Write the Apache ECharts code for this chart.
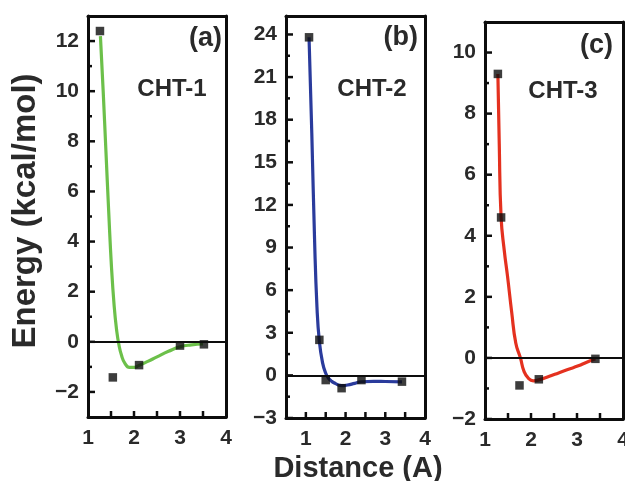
<!DOCTYPE html>
<html><head><meta charset="utf-8">
<script src="https://cdn.jsdelivr.net/npm/echarts@6/dist/echarts.min.js"></script>
<style>html,body{margin:0;padding:0;background:#fff}#c{width:625px;height:481px}</style>
</head><body><div id="c"></div>
<script>
// ---- text ----
const panelTags = ['(a)', '(b)', '(c)'];
const panelNames = ['CHT-1', 'CHT-2', 'CHT-3'];
const xTitle = 'Distance (A)';
const yTitle = 'Energy (kcal/mol)';
const xTickLabels = [1, 2, 3, 4];

// ---- panel (a) CHT-1 ----
const distA = [1.26, 1.54, 2.11, 3.0, 3.52];
const energyA = [12.4, -1.42, -0.93, -0.15, -0.1];
const fitXA = [1.27, 1.33, 1.39, 1.45, 1.51, 1.57, 1.62, 1.67, 1.73, 1.80, 1.90, 2.00, 2.10, 2.30, 2.50, 2.75, 3.00, 3.25, 3.50];
const fitYA = [12.2, 10.0, 7.6, 5.2, 3.0, 1.4, 0.5, -0.1, -0.55, -0.85, -1.02, -1.02, -0.95, -0.78, -0.6, -0.38, -0.2, -0.12, -0.08];
const yTicksA = [-2, 0, 2, 4, 6, 8, 10, 12];

// ---- panel (b) CHT-2 ----
const distB = [1.08, 1.34, 1.50, 1.90, 2.40, 3.42];
const energyB = [23.8, 2.5, -0.33, -0.9, -0.33, -0.44];
const fitXB = [1.08, 1.15, 1.22, 1.28, 1.34, 1.42, 1.50, 1.57, 1.65, 1.75, 1.85, 1.95, 2.05, 2.23, 2.40, 2.70, 3.00, 3.42];
const fitYB = [23.8, 17.0, 9.5, 4.8, 2.4, 0.9, 0.15, -0.2, -0.42, -0.58, -0.7, -0.72, -0.68, -0.56, -0.45, -0.42, -0.43, -0.45];
const yTicksB = [-3, 0, 3, 6, 9, 12, 15, 18, 21, 24];

// ---- panel (c) CHT-3 ----
const distC = [1.28, 1.35, 1.75, 2.17, 3.40];
const energyC = [9.3, 4.6, -0.9, -0.7, -0.03];
const fitXC = [1.28, 1.31, 1.35, 1.42, 1.49, 1.58, 1.67, 1.77, 1.85, 1.95, 2.05, 2.17, 2.40, 2.60, 2.80, 3.03, 3.20, 3.40];
const fitYC = [9.3, 7.0, 4.6, 3.5, 2.67, 1.5, 0.48, 0.0, -0.45, -0.68, -0.75, -0.72, -0.6, -0.49, -0.38, -0.26, -0.15, -0.03];
const yTicksC = [-2, 0, 2, 4, 6, 8, 10];

// ---- assembly ----
const FONT = '"Liberation Sans", Arial, Helvetica, sans-serif';
const TXT = '#2a2a2a';
const INK = '#0d0d0d';

const panels = [
  {dist: distA, energy: energyA, fitX: fitXA, fitY: fitYA, yTicks: yTicksA,
   box: {left: 88, top: 16, width: 138, height: 401}, xMin: 1, xMax: 4, yMin: -3, yMax: 13, yMinorStep: 1,
   color: '#6cc04a', tagPos: [222, 25], namePos: [172, 89]},
  {dist: distB, energy: energyB, fitX: fitXB, fitY: fitYB, yTicks: yTicksB,
   box: {left: 286, top: 16, width: 139, height: 402}, xMin: 0.5, xMax: 4, yMin: -3, yMax: 25.3, yMinorStep: 1.5,
   color: '#2a3b9c', tagPos: [418, 24], namePos: [372, 89]},
  {dist: distC, energy: energyC, fitX: fitXC, fitY: fitYC, yTicks: yTicksC,
   box: {left: 485, top: 22, width: 138, height: 397}, xMin: 1, xMax: 4, yMin: -2, yMax: 11, yMinorStep: 1,
   color: '#e4311f', tagPos: [613, 32], namePos: [563, 91]}
];

const grids = [], xAxes = [], yAxes = [], series = [], graphics = [];
const labelStyle = {fontSize: 21, fontWeight: 'bold', color: TXT, fontFamily: FONT};
const sign = v => (v < 0 ? '\u2212' + Math.abs(v) : String(v));
const frameLine = () => ({show: true, onZero: false, lineStyle: {color: INK, width: 3}});

panels.forEach((p, i) => {
  const g = grids.length;
  grids.push(Object.assign({show: false, containLabel: false, outerBoundsMode: 'none'}, p.box));
  const xb = xAxes.length;
  xAxes.push({type: 'value', gridIndex: g, min: p.xMin, max: p.xMax, position: 'bottom',
    axisLine: frameLine(), splitLine: {show: false}, axisTick: {show: false},
    axisLabel: Object.assign({customValues: xTickLabels, margin: 11, formatter: sign}, labelStyle)});
  xAxes.push({type: 'value', gridIndex: g, min: p.xMin, max: p.xMax, position: 'top',
    axisLine: frameLine(), splitLine: {show: false}, axisTick: {show: false}, axisLabel: {show: false}});
  const yl = yAxes.length;
  yAxes.push({type: 'value', gridIndex: g, min: p.yMin, max: p.yMax, position: 'left',
    axisLine: frameLine(), splitLine: {show: false}, axisTick: {show: false},
    axisLabel: Object.assign({customValues: p.yTicks, margin: 9, formatter: sign}, labelStyle)});
  yAxes.push({type: 'value', gridIndex: g, min: p.yMin, max: p.yMax, position: 'right',
    axisLine: frameLine(), splitLine: {show: false}, axisLabel: {show: false}, axisTick: {show: false}});

  // inward tick marks: each one a tiny two-point line series on the panel's axes
  const kx = (p.xMax - p.xMin) / p.box.width;    // data units per pixel (x)
  const ky = (p.yMax - p.yMin) / p.box.height;   // data units per pixel (y)
  const segs = [];
  const yTick = (v, len) => segs.push([[p.xMin, v], [p.xMin + len * kx, v]]);
  p.yTicks.forEach(v => yTick(v, 7));
  p.yTicks.forEach(v => { const m = v + p.yMinorStep; if (m < p.yMax - 0.3) yTick(m, 4); });
  if (p.yTicks[0] - p.yMinorStep > p.yMin + 0.3) yTick(p.yTicks[0] - p.yMinorStep, 4);
  for (let v = 1; v < p.xMax - 0.01; v += 0.5) {
    if (v > p.xMin + 0.01) segs.push([[v, p.yMin], [v, p.yMin + 6 * ky]]);
  }
  segs.forEach(sg => series.push({type: 'line', xAxisIndex: xb, yAxisIndex: yl, data: sg,
    symbol: 'none', showSymbol: false, silent: true, clip: false, z: 6,
    lineStyle: {color: INK, width: 2.5, cap: 'butt'}, animation: false}));

  series.push({type: 'line', xAxisIndex: xb, yAxisIndex: yl,
    data: p.fitX.map((x, k) => [x, p.fitY[k]]),
    smooth: 0.5, showSymbol: false, symbol: 'none',
    lineStyle: {color: p.color, width: 3.2}, z: 3,
    markLine: {silent: true, symbol: ['none', 'none'], label: {show: false},
      lineStyle: {color: INK, width: 2, type: 'solid'}, data: [{yAxis: 0}], animation: false}});
  series.push({type: 'scatter', xAxisIndex: xb, yAxisIndex: yl,
    data: p.dist.map((x, k) => [x, p.energy[k]]),
    symbol: 'rect', symbolSize: 8.5, itemStyle: {color: INK}, z: 4});

  graphics.push({type: 'text', x: p.tagPos[0], y: p.tagPos[1],
    style: {text: panelTags[i], textAlign: 'right', textVerticalAlign: 'top',
      font: 'bold 27px ' + FONT, fill: TXT}});
  graphics.push({type: 'text', x: p.namePos[0], y: p.namePos[1],
    style: {text: panelNames[i], textAlign: 'center', textVerticalAlign: 'middle',
      font: 'bold 24px ' + FONT, fill: TXT}});
});

graphics.push({type: 'text', x: 26, y: 211, rotation: Math.PI / 2,
  style: {text: yTitle, textAlign: 'center', textVerticalAlign: 'middle', font: 'bold 33px ' + FONT, fill: TXT}});
graphics.push({type: 'text', x: 358, y: 469,
  style: {text: xTitle, textAlign: 'center', textVerticalAlign: 'middle', font: 'bold 29px ' + FONT, fill: TXT}});

const chart = echarts.init(document.getElementById('c'), null, {renderer: 'canvas'});
chart.setOption({
  animation: false,
  backgroundColor: '#fff',
  grid: grids, xAxis: xAxes, yAxis: yAxes, series: series, graphic: graphics
});
</script>
</body></html>
